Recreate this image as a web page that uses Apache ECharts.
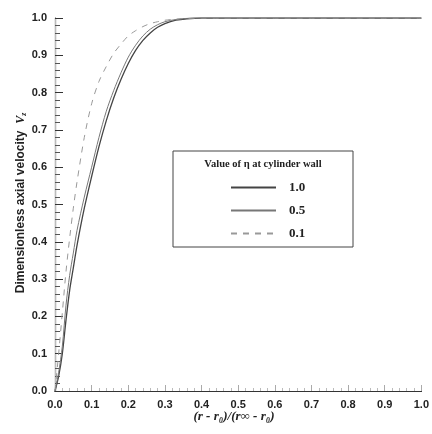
<!DOCTYPE html>
<html>
<head>
<meta charset="utf-8">
<script src="https://cdn.jsdelivr.net/npm/echarts@6/dist/echarts.min.js"></script>
<style>
  html, body { margin: 0; padding: 0; background: #fff; }
  #chart { width: 432px; height: 434px; }
</style>
</head>
<body>
<div id="chart"></div>
<script>
// Radial position, normalised: (r - r0)/(r_inf - r0)
const radialPos = [0, 0.01, 0.02, 0.03, 0.04, 0.05, 0.06, 0.08, 0.10, 0.12, 0.14, 0.16, 0.18, 0.20,
  0.22, 0.24, 0.26, 0.28, 0.30, 0.33, 0.36, 0.40, 0.45, 0.5, 0.6, 0.7, 0.8, 0.9, 1.0];

// Dimensionless axial velocity for each wall value of eta
const vzEta10 = [0, 0.04, 0.10, 0.19, 0.27, 0.33, 0.39, 0.49, 0.575, 0.655, 0.725, 0.785, 0.835, 0.878,
  0.913, 0.94, 0.96, 0.975, 0.985, 0.994, 0.998, 1, 1, 1, 1, 1, 1, 1, 1];
const vzEta05 = [0, 0.05, 0.12, 0.23, 0.31, 0.37, 0.43, 0.52, 0.60, 0.68, 0.75, 0.805, 0.853, 0.895,
  0.927, 0.952, 0.97, 0.982, 0.99, 0.996, 0.999, 1, 1, 1, 1, 1, 1, 1, 1];
const vzEta01 = [0, 0.10, 0.21, 0.32, 0.41, 0.49, 0.56, 0.68, 0.77, 0.83, 0.87, 0.905, 0.93, 0.952,
  0.966, 0.977, 0.985, 0.99, 0.994, 0.997, 0.999, 1, 1, 1, 1, 1, 1, 1, 1];

const seriesNames = ['1.0', '0.5', '0.1'];
const xTicks = ['0.0', '0.1', '0.2', '0.3', '0.4', '0.5', '0.6', '0.7', '0.8', '0.9', '1.0'];
const yTicks = ['0.0', '0.1', '0.2', '0.3', '0.4', '0.5', '0.6', '0.7', '0.8', '0.9', '1.0'];

const pairs = ys => radialPos.map((x, i) => [x, ys[i]]);
const tickFmt = list => v => list[Math.round(v * 10)];

const labelFont = { fontFamily: 'Liberation Sans', fontWeight: 'bold', fontSize: 11, color: '#222' };

const chart = echarts.init(document.getElementById('chart'));
chart.setOption({
  animation: false,
  backgroundColor: '#fff',
  grid: { left: 55, right: 10, top: 18, bottom: 43 },
  xAxis: [{
    type: 'value', min: 0, max: 1, interval: 0.1,
    axisLine: { lineStyle: { color: '#222', width: 1.2 } },
    axisTick: { inside: true, length: 6, lineStyle: { color: '#aaa' } },
    minorTick: { show: true, splitNumber: 5, length: 3, lineStyle: { color: '#bbb' } },
    splitLine: { show: false },
    axisLabel: Object.assign({ formatter: tickFmt(xTicks), margin: 8 }, labelFont)
  }, {
    type: 'value', min: 0, max: 1, position: 'top',
    axisLine: { show: true, lineStyle: { color: '#333', width: 1.2 } },
    axisTick: { show: false }, axisLabel: { show: false }, splitLine: { show: false }
  }],
  yAxis: [{
    type: 'value', min: 0, max: 1, interval: 0.1,
    axisLine: { lineStyle: { color: '#222', width: 1.2 } },
    axisTick: { inside: true, length: 8, lineStyle: { color: '#333' } },
    minorTick: { show: true, splitNumber: 5, length: 5, lineStyle: { color: '#555' } },
    splitLine: { show: false },
    axisLabel: Object.assign({ formatter: tickFmt(yTicks), margin: 8 }, labelFont)
  }, {
    type: 'value', min: 0, max: 1, position: 'right',
    axisLine: { show: true, lineStyle: { color: '#bbb', width: 1 } },
    axisTick: { show: false }, axisLabel: { show: false }, splitLine: { show: false }
  }],
  legend: {
    orient: 'vertical', left: 225, top: 176, itemWidth: 45, itemHeight: 10, itemGap: 10,
    data: seriesNames,
    itemStyle: { opacity: 0 },
    textStyle: { fontFamily: 'Liberation Serif', fontWeight: 'bold', fontSize: 13, color: '#222',
      padding: [0, 0, 0, 8] }
  },
  graphic: [
    { type: 'rect', shape: { x: 173, y: 151, width: 180, height: 96 },
      style: { fill: 'none', stroke: '#444', lineWidth: 1 }, z: 1 },
    { type: 'text', x: 263, y: 164,
      style: { text: 'Value of η at cylinder wall', align: 'center', verticalAlign: 'middle',
        font: 'bold 10.5px "Liberation Serif"', fill: '#222' } },
    { type: 'text', x: 21, y: 203, rotation: Math.PI / 2,
      style: { text: '{t|Dimensionless axial velocity  }{v|V}{s|z}', align: 'center', verticalAlign: 'middle',
        rich: {
          t: { font: 'bold 12px "Liberation Sans"', fill: '#222' },
          v: { font: 'italic bold 12px "Liberation Serif"', fill: '#222' },
          s: { font: 'italic bold 8px "Liberation Serif"', fill: '#222', padding: [6, 0, 0, 0] }
        } } },
    { type: 'text', x: 234, y: 417,
      style: { text: '(r - r\u2080)/(r\u221E - r\u2080)', align: 'center', verticalAlign: 'middle',
        font: 'italic bold 13px "Liberation Serif"', fill: '#222' } }
  ],
  series: [
    { name: seriesNames[0], type: 'line', smooth: 0.3, showSymbol: false, symbol: 'none',
      data: pairs(vzEta10), lineStyle: { color: '#444', width: 1.3 }, itemStyle: { color: '#444' }, z: 3 },
    { name: seriesNames[1], type: 'line', smooth: 0.3, showSymbol: false, symbol: 'none',
      data: pairs(vzEta05), lineStyle: { color: '#777', width: 1 }, itemStyle: { color: '#777' }, z: 3 },
    { name: seriesNames[2], type: 'line', smooth: 0.3, showSymbol: false, symbol: 'none',
      data: pairs(vzEta01), lineStyle: { color: '#999', width: 1, type: [6, 6] }, itemStyle: { color: '#999' }, z: 3 }
  ]
});
</script>
</body>
</html>
